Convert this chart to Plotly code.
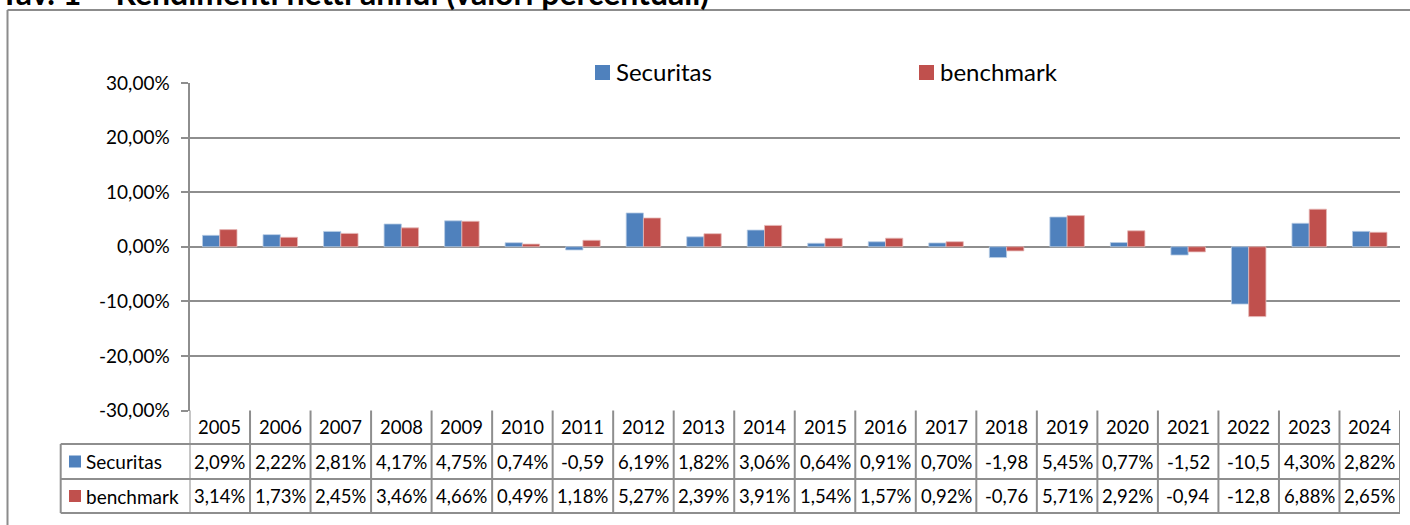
import plotly.graph_objects as go

years = [str(y) for y in range(2005, 2025)]
securitas = [2.09, 2.22, 2.81, 4.17, 4.75, 0.74, -0.59, 6.19, 1.82, 3.06,
             0.64, 0.91, 0.70, -1.98, 5.45, 0.77, -1.52, -10.5, 4.30, 2.82]
benchmark = [3.14, 1.73, 2.45, 3.46, 4.66, 0.49, 1.18, 5.27, 2.39, 3.91,
             1.54, 1.57, 0.92, -0.76, 5.71, 2.92, -0.94, -12.8, 6.88, 2.65]
securitas_labels = ["2,09%", "2,22%", "2,81%", "4,17%", "4,75%", "0,74%", "-0,59", "6,19%",
                    "1,82%", "3,06%", "0,64%", "0,91%", "0,70%", "-1,98", "5,45%", "0,77%",
                    "-1,52", "-10,5", "4,30%", "2,82%"]
benchmark_labels = ["3,14%", "1,73%", "2,45%", "3,46%", "4,66%", "0,49%", "1,18%", "5,27%",
                    "2,39%", "3,91%", "1,54%", "1,57%", "0,92%", "-0,76", "5,71%", "2,92%",
                    "-0,94", "-12,8", "6,88%", "2,65%"]
ytick_vals = [-30, -20, -10, 0, 10, 20, 30]
ytick_text = ["-30,00%", "-20,00%", "-10,00%", "0,00%", "10,00%", "20,00%", "30,00%"]
series_names = ["Securitas", "benchmark"]
title_text = "Tav. 1 – Rendimenti netti annui (valori percentuali)"

W, H = 1410, 525
BLUE, RED = "#4F81BD", "#C0504D"
GRID = "#8E8E8E"
FONT = "Lato"


def px(x):
    return x / W


def py(y):
    return 1 - y / H


PLOT_L, PLOT_R, PLOT_T, PLOT_B = 189.5, 1400, 83, 410.5
ROW1, ROW2, ROW3 = 444, 479, 513
TAB_L = 60.7
N = len(years)

fig = go.Figure()
fig.add_trace(go.Bar(x=years, y=securitas, name=series_names[0], marker_color=BLUE,
                     marker_line=dict(color="#B9CDE5", width=0.8)))
fig.add_trace(go.Bar(x=years, y=benchmark, name=series_names[1], marker_color=RED,
                     marker_line=dict(color="#E6B9B8", width=0.8)))

shapes = []
line = dict(color=GRID, width=2)
frame = dict(color="#8C8C8C", width=2)
# outer frame (only its top and left edges fall inside the picture)
shapes.append(dict(type="line", xref="paper", yref="paper", x0=px(7.5), x1=1,
                   y0=py(10), y1=py(10), line=frame))
shapes.append(dict(type="line", xref="paper", yref="paper", x0=px(7.5), x1=px(7.5),
                   y0=py(10), y1=0, line=frame))
# data table grid
for i in range(N + 1):
    shapes.append(dict(type="line", xref="x", yref="paper", x0=i - 0.5, x1=i - 0.5,
                       y0=py(PLOT_B), y1=py(ROW3), line=line))
shapes.append(dict(type="line", xref="paper", yref="paper", x0=px(TAB_L), x1=px(TAB_L),
                   y0=py(ROW1), y1=py(ROW3), line=line))
for yy in (ROW1, ROW2, ROW3):
    shapes.append(dict(type="line", xref="paper", yref="paper", x0=px(TAB_L), x1=px(PLOT_R),
                       y0=py(yy), y1=py(yy), line=line))

annotations = []
cell_font = dict(family=FONT, size=18.5, color="black")
label_font = dict(family=FONT, size=19, color="black")
for i, yr in enumerate(years):
    annotations.append(dict(x=i, xref="x", y=py((PLOT_B + ROW1) / 2), yref="paper",
                            text=yr, showarrow=False, xanchor="center", yanchor="middle",
                            font=cell_font))
for lbls, r0, r1 in ((securitas_labels, ROW1, ROW2), (benchmark_labels, ROW2, ROW3)):
    for i, t in enumerate(lbls):
        annotations.append(dict(x=i, xref="x", y=py((r0 + r1) / 2), yref="paper",
                                text=t, showarrow=False, xanchor="center", yanchor="middle",
                                font=cell_font))
for name, col, r0, r1 in ((series_names[0], BLUE, ROW1, ROW2), (series_names[1], RED, ROW2, ROW3)):
    cy = (r0 + r1) / 2
    shapes.append(dict(type="rect", xref="paper", yref="paper", x0=px(69), x1=px(81),
                       y0=py(cy + 6), y1=py(cy - 6), fillcolor=col, line=dict(width=0)))
    annotations.append(dict(x=px(84), xref="paper", y=py(cy), yref="paper", text=name,
                            showarrow=False, xanchor="left", yanchor="middle",
                            font=label_font))
# legend at the top
for name, col, x0 in ((series_names[0], BLUE, 595), (series_names[1], RED, 919)):
    shapes.append(dict(type="rect", xref="paper", yref="paper", x0=px(x0), x1=px(x0 + 15),
                       y0=py(80), y1=py(65), fillcolor=col, line=dict(width=0)))
    annotations.append(dict(x=px(x0 + 19), xref="paper", y=py(71), yref="paper", text=name,
                            showarrow=False, xanchor="left", yanchor="middle",
                            font=dict(family=FONT, size=24, color="black")))
# title, cut by the top edge as in the original
annotations.append(dict(x=px(-2), xref="paper", y=py(-7), yref="paper",
                        text="<b>" + title_text + "</b>", showarrow=False,
                        xanchor="left", yanchor="middle",
                        font=dict(family=FONT, size=32, color="black")))

fig.update_layout(
    width=W, height=H, autosize=False,
    margin=dict(l=0, r=0, t=0, b=0, pad=0, autoexpand=False),
    paper_bgcolor="white", plot_bgcolor="white",
    barmode="group", bargap=0.43, bargroupgap=0,
    showlegend=False,
    separators=",.",
    xaxis=dict(type="category", range=[-0.5, N - 0.5], domain=[px(PLOT_L), px(PLOT_R)],
               showticklabels=False, showgrid=False, zeroline=False, showline=False,
               ticks="", fixedrange=True, automargin=False),
    yaxis=dict(domain=[py(PLOT_B), py(PLOT_T)], range=[-30, 30], tickvals=ytick_vals,
               ticktext=ytick_text, showgrid=True, gridcolor=GRID, gridwidth=2,
               zeroline=True, zerolinecolor=GRID, zerolinewidth=2,
               showline=True, linecolor=GRID, linewidth=2,
               ticks="outside", ticklen=7, tickwidth=2, tickcolor=GRID,
               ticklabelstandoff=7, fixedrange=True, automargin=False,
               tickfont=dict(family=FONT, size=19, color="black")),
    shapes=shapes, annotations=annotations,
)

fig.write_html("out.html", config={"displayModeBar": False},
               post_script="document.body.style.margin='0';")
